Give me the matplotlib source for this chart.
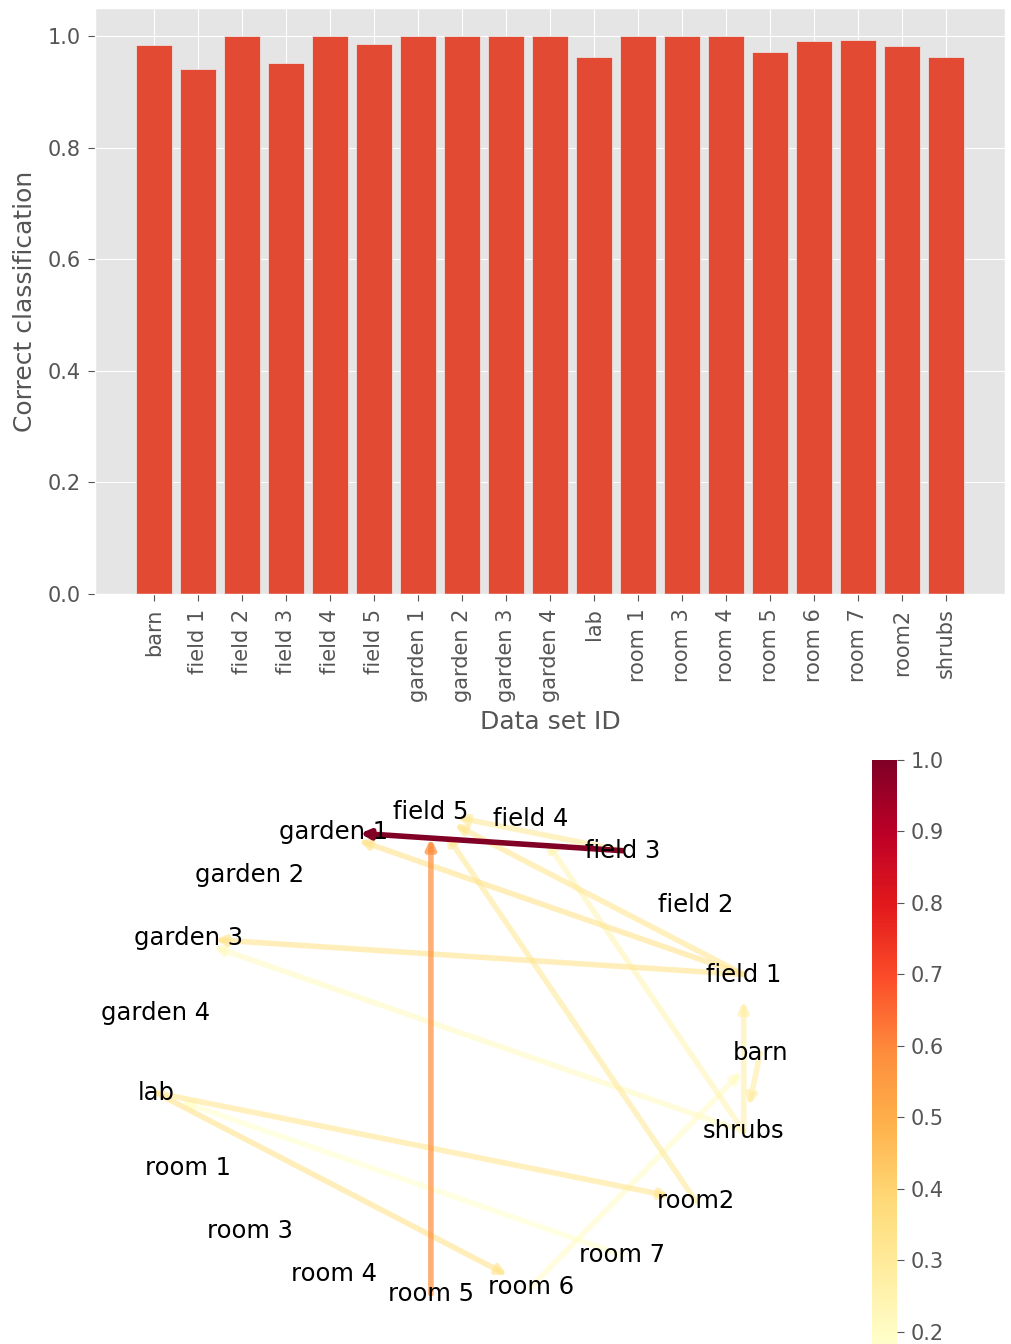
import numpy as np
import matplotlib
matplotlib.use("Agg")
import matplotlib.pyplot as plt
from matplotlib.patches import FancyArrowPatch
from matplotlib.colors import Normalize
from matplotlib.cm import ScalarMappable

# Per-dataset classification accuracy
datasets = ["barn", "field 1", "field 2", "field 3", "field 4", "field 5",
            "garden 1", "garden 2", "garden 3", "garden 4", "lab",
            "room 1", "room 3", "room 4", "room 5", "room 6", "room 7",
            "room2", "shrubs"]
accuracy = [0.984, 0.941, 1.0, 0.952, 1.0, 0.986,
            1.0, 1.0, 1.0, 1.0, 0.962,
            1.0, 1.0, 1.0, 0.971, 0.991, 0.992,
            0.982, 0.962]

# Confusion edges: source dataset -> predicted dataset, with weight
edge_src = ["field 3", "room 5", "field 1", "field 1", "field 3", "field 1",
            "shrubs", "lab", "lab", "room 7", "room 6", "room2", "shrubs",
            "shrubs", "barn"]
edge_dst = ["garden 1", "field 5", "garden 1", "field 5", "field 5", "garden 3",
            "garden 3", "room2", "room 6", "lab", "barn", "field 5", "field 4",
            "field 1", "shrubs"]
edge_weight = [1.0, 0.59, 0.33, 0.32, 0.30, 0.33,
               0.21, 0.32, 0.33, 0.18, 0.20, 0.30, 0.24,
               0.27, 0.28]
cbar_ticks = [0.2, 0.3, 0.4, 0.5, 0.6, 0.7, 0.8, 0.9, 1.0]

plt.style.use("ggplot")
plt.rcParams["font.size"] = 15
plt.rcParams["font.family"] = ["DejaVu Sans"]

W, H = 1011, 1344
fig = plt.figure(figsize=(W / 100, H / 100), dpi=100)


def px_axes(left, top, right, bottom):
    return fig.add_axes([left / W, 1 - bottom / H, (right - left) / W, (bottom - top) / H])


# --- accuracy bar chart ---
ax = px_axes(95, 8, 1005, 594)
x = np.arange(len(datasets))
ax.bar(x, accuracy, color="#E24A33", edgecolor="#EEEEEE", linewidth=0.5)
ax.set_xticks(x)
ax.set_xticklabels(datasets, rotation=90)
ax.tick_params(axis="both", length=5, pad=5.5)
ax.set_ylabel("Correct classification", labelpad=7)
ax.set_xlabel("Data set ID", labelpad=6)

# --- confusion graph on a circular layout ---
gax = px_axes(91, 763, 821, 1343)
gax.set_xlim(-1.2, 1.2)
gax.set_ylim(-1.2, 1.2)
gax.axis("off")

n = len(datasets)
theta = 2 * np.pi * np.arange(n) / n
pos = {name: (np.cos(t), np.sin(t)) for name, t in zip(datasets, theta)}

cmap = plt.get_cmap("YlOrRd")
norm = Normalize(vmin=min(edge_weight), vmax=max(edge_weight))

for s, d, w in zip(edge_src, edge_dst, edge_weight):
    alpha = min(1.0, 0.55 + 0.45 * w ** 2)
    arrow = FancyArrowPatch(pos[s], pos[d], arrowstyle="-|>", mutation_scale=13,
                            color=cmap(norm(w)), alpha=alpha, linewidth=4.0,
                            shrinkA=0, shrinkB=19, zorder=1 + w)
    gax.add_patch(arrow)

for name, (px, py) in pos.items():
    gax.text(px, py, name, ha="center", va="center", fontsize=17.5,
             color="black", zorder=5)

# colour scale for edge weights
cax = px_axes(872, 760, 897, 1346)
sm = ScalarMappable(norm=norm, cmap=cmap)
cb = fig.colorbar(sm, cax=cax, ticks=cbar_ticks)
cb.outline.set_visible(False)
cax.tick_params(labelsize=15, colors="#555555", length=5, pad=5)
cax.grid(False)

fig.savefig("out.png", dpi=100)
